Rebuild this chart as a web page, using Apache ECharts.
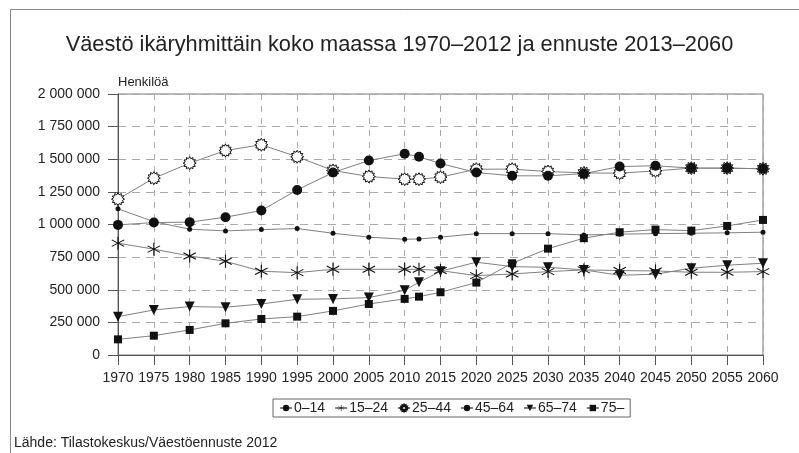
<!DOCTYPE html>
<html>
<head>
<meta charset="utf-8">
<script src="https://cdn.jsdelivr.net/npm/echarts@6/dist/echarts.min.js"></script>
<style>
  html, body { margin: 0; padding: 0; background: #fff; }
  #chart { width: 799px; height: 453px; }
</style>
</head>
<body>
<div id="chart"></div>
<script>
// Vuodet (2012 viimeinen tilastovuosi, siitä eteenpäin ennuste)
const years = [1970, 1975, 1980, 1985, 1990, 1995, 2000, 2005, 2010, 2012, 2015,
               2020, 2025, 2030, 2035, 2040, 2045, 2050, 2055, 2060];

const age0_14  = [1120000, 1022000, 964000, 951000, 961000, 969000, 933000, 903000, 887000, 889000, 903000,
                  930000, 930000, 930000, 920000, 926000, 930000, 933000, 936000, 941000];
const age15_24 = [857000, 811000, 759000, 718000, 642000, 631000, 657000, 657000, 657000, 657000, 647000,
                  608000, 621000, 639000, 652000, 647000, 644000, 634000, 634000, 639000];
const age25_44 = [1194000, 1355000, 1470000, 1567000, 1611000, 1519000, 1414000, 1368000, 1347000, 1347000, 1363000,
                  1424000, 1424000, 1406000, 1395000, 1393000, 1411000, 1432000, 1432000, 1427000];
const age45_64 = [997000, 1015000, 1018000, 1056000, 1107000, 1265000, 1398000, 1490000, 1542000, 1519000, 1467000,
                  1398000, 1373000, 1373000, 1390000, 1444000, 1450000, 1432000, 1432000, 1427000];
const age65_74 = [294000, 345000, 371000, 366000, 391000, 427000, 430000, 440000, 496000, 557000, 642000,
                  711000, 677000, 672000, 652000, 611000, 619000, 665000, 688000, 703000];
const age75    = [120000, 148000, 192000, 243000, 276000, 294000, 338000, 391000, 430000, 447000, 481000,
                  555000, 703000, 815000, 895000, 941000, 961000, 953000, 989000, 1035000];

const groupNames = ['0–14', '15–24', '25–44', '45–64', '65–74', '75–'];
const yTicks = [0, 250000, 500000, 750000, 1000000, 1250000, 1500000, 1750000, 2000000];

// --- merkkisymbolit ---
function sunStarPath(points, rOut, rIn) {
  let d = '';
  for (let i = 0; i < points * 2; i++) {
    const r = i % 2 === 0 ? rOut : rIn;
    const a = Math.PI * i / points - Math.PI / 2;
    const x = (r * Math.cos(a)).toFixed(3), y = (r * Math.sin(a)).toFixed(3);
    d += (i === 0 ? 'M' : 'L') + x + ',' + y + ' ';
  }
  return 'path://' + d + 'Z';
}
function asteriskPath(rays, len, w, offset) {
  let d = '';
  for (let k = 0; k < rays; k++) {
    const a = Math.PI * k / rays + offset;
    const c = Math.cos(a), s = Math.sin(a);
    const px = -s * w / 2, py = c * w / 2;
    const pts = [[len * c + px, len * s + py], [-len * c + px, -len * s + py],
                 [-len * c - px, -len * s - py], [len * c - px, len * s - py]];
    d += 'M' + pts.map(p => p[0].toFixed(3) + ',' + p[1].toFixed(3)).join(' L') + ' Z ';
  }
  return 'path://' + d;
}
const SYM_SUN = sunStarPath(12, 10, 7);
const SYM_AST = asteriskPath(3, 10, 1.6, Math.PI / 2);
const SYM_TRI = 'path://M0,0 L10,0 L5,9 Z';

const lineColor = '#808080';
const markColor = '#111';
const textColor = '#222';
const fontFamily = '"Liberation Sans", Arial, sans-serif';

function pairs(vals) { return years.map((y, i) => [y, vals[i]]); }

function mkSeries(name, vals, symbol, size, hollow) {
  return {
    name: name,
    type: 'line',
    data: pairs(vals),
    symbol: symbol,
    symbolSize: size,
    showAllSymbol: true,
    lineStyle: { color: lineColor, width: 1 },
    itemStyle: hollow
      ? { color: '#fff', borderColor: markColor, borderWidth: 1 }
      : { color: markColor, borderWidth: 0 },
    emphasis: { disabled: true },
    animation: false
  };
}

function fmtThousands(v) {
  return String(v).replace(/\B(?=(\d{3})+(?!\d))/g, ' ');
}

const chart = echarts.init(document.getElementById('chart'), null, { renderer: 'canvas' });
chart.setOption({
  backgroundColor: '#fff',
  animation: false,
  textStyle: { fontFamily: fontFamily },
  title: {
    text: 'Väestö ikäryhmittäin koko maassa 1970–2012 ja ennuste 2013–2060',
    left: 'center',
    top: 29,
    textStyle: { fontSize: 21.8, fontWeight: 'normal', color: textColor, fontFamily: fontFamily }
  },
  grid: {
    left: 118, right: 36, top: 94, bottom: 98,
    show: true, borderColor: '#777', borderWidth: 1, backgroundColor: 'transparent'
  },
  legend: {
    data: groupNames,
    top: 399,
    left: 273,
    orient: 'horizontal',
    itemWidth: 12,
    itemHeight: 8,
    itemGap: 9,
    padding: [2, 6],
    borderColor: '#666',
    borderWidth: 1,
    selectedMode: false,
    textStyle: { fontSize: 14, color: textColor, fontFamily: fontFamily, padding: [0, 0, 0, -3] }
  },
  xAxis: {
    type: 'value',
    min: 1970, max: 2060, interval: 5,
    axisLine: { lineStyle: { color: '#555', width: 1 } },
    axisTick: { show: true, length: 10, lineStyle: { color: '#555' } },
    axisLabel: { color: textColor, fontSize: 14, margin: 16, formatter: v => String(v) },
    splitLine: { show: true, lineStyle: { color: '#aaa', type: [6, 6], width: 1 } }
  },
  yAxis: {
    type: 'value',
    min: yTicks[0], max: yTicks[yTicks.length - 1], interval: yTicks[1] - yTicks[0],
    name: 'Henkilöä',
    nameLocation: 'end',
    nameGap: 5,
    nameTextStyle: { color: textColor, fontSize: 13, align: 'left', padding: [0, 0, 0, 0] },
    axisLine: { show: true, lineStyle: { color: '#555', width: 1 } },
    axisTick: { show: true, length: 10, lineStyle: { color: '#555' } },
    axisLabel: { color: textColor, fontSize: 14, margin: 18, formatter: v => fmtThousands(v) },
    splitLine: { show: true, lineStyle: { color: '#aaa', type: [8, 6], width: 1 } }
  },
  graphic: [
    { type: 'line', shape: { x1: 10.5, y1: 9.5, x2: 10.5, y2: 453 }, style: { stroke: '#888', lineWidth: 1 } },
    { type: 'line', shape: { x1: 10.5, y1: 9.5, x2: 799, y2: 9.5 }, style: { stroke: '#888', lineWidth: 1 } },
    { type: 'text', left: 14, top: 436,
      style: { text: 'Lähde: Tilastokeskus/Väestöennuste 2012', fill: textColor, font: '14px ' + fontFamily } }
  ],
  series: [
    mkSeries(groupNames[0], age0_14, 'circle', 5, false),
    mkSeries(groupNames[1], age15_24, SYM_AST, 13, false),
    mkSeries(groupNames[2], age25_44, SYM_SUN, 13, true),
    mkSeries(groupNames[3], age45_64, 'circle', 10, false),
    mkSeries(groupNames[4], age65_74, SYM_TRI, 10, false),
    mkSeries(groupNames[5], age75, 'rect', 8, false)
  ]
});
</script>
</body>
</html>
